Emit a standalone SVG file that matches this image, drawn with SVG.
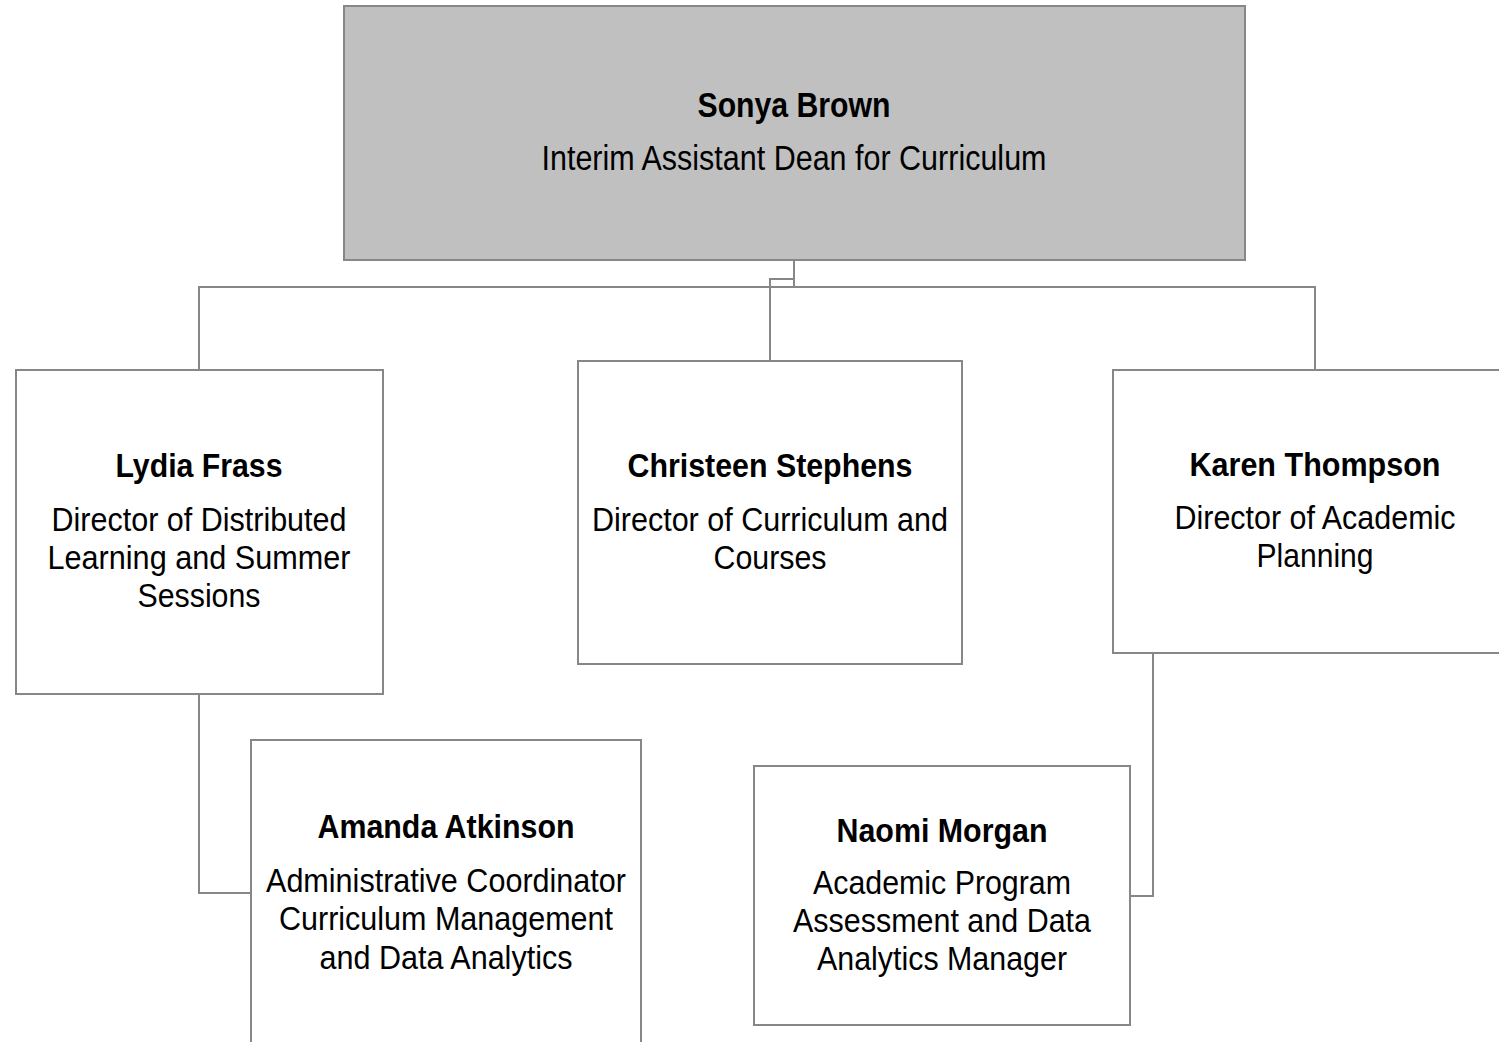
<svg xmlns="http://www.w3.org/2000/svg" width="1499" height="1042" viewBox="0 0 1499 1042">
<style>
.box{fill:#ffffff;stroke:#878787;stroke-width:2}
.top{fill:#c0c0c0;stroke:#878787;stroke-width:2}
.ln{fill:none;stroke:#878787;stroke-width:2}
text{font-family:"Liberation Sans Narrow","Arial Narrow","Liberation Sans",sans-serif;fill:#000;text-anchor:middle;font-size:34px}
.b{font-weight:bold;font-size:33px}
.t{font-size:35px}
</style>
<rect width="1499" height="1042" fill="#ffffff"/>
<g id="connectors">
<path class="ln" d="M794,260 V287"/>
<path class="ln" d="M199,370 V287 H1315 V370"/>
<path class="ln" d="M794,279 H770 V361"/>
<path class="ln" d="M199,694 V893 H251"/>
<path class="ln" d="M1153,653 V896 H1130"/>
</g>
<g id="sonya">
<rect class="top" x="344" y="6" width="901" height="254"/>
<text class="b t" x="794" y="117" textLength="193" lengthAdjust="spacingAndGlyphs">Sonya Brown</text>
<text class="t" x="794" y="170" textLength="505" lengthAdjust="spacingAndGlyphs">Interim Assistant Dean for Curriculum</text>
</g>
<g id="lydia">
<rect class="box" x="16" y="370" width="367" height="324"/>
<text class="b" x="199" y="477" textLength="167" lengthAdjust="spacingAndGlyphs">Lydia Frass</text>
<text x="199" y="531" textLength="295" lengthAdjust="spacingAndGlyphs">Director of Distributed</text>
<text x="199" y="569" textLength="303" lengthAdjust="spacingAndGlyphs">Learning and Summer</text>
<text x="199" y="607" textLength="123" lengthAdjust="spacingAndGlyphs">Sessions</text>
</g>
<g id="christeen">
<rect class="box" x="578" y="361" width="384" height="303"/>
<text class="b" x="770" y="477" textLength="285" lengthAdjust="spacingAndGlyphs">Christeen Stephens</text>
<text x="770" y="531" textLength="356" lengthAdjust="spacingAndGlyphs">Director of Curriculum and</text>
<text x="770" y="569" textLength="113" lengthAdjust="spacingAndGlyphs">Courses</text>
</g>
<g id="karen">
<rect class="box" x="1113" y="370" width="400" height="283"/>
<text class="b" x="1315" y="476" textLength="251" lengthAdjust="spacingAndGlyphs">Karen Thompson</text>
<text x="1315" y="529" textLength="281" lengthAdjust="spacingAndGlyphs">Director of Academic</text>
<text x="1315" y="567" textLength="117" lengthAdjust="spacingAndGlyphs">Planning</text>
</g>
<g id="amanda">
<rect class="box" x="251" y="740" width="390" height="320"/>
<text class="b" x="446" y="838" textLength="257" lengthAdjust="spacingAndGlyphs">Amanda Atkinson</text>
<text x="446" y="892" textLength="360" lengthAdjust="spacingAndGlyphs">Administrative Coordinator</text>
<text x="446" y="930" textLength="334" lengthAdjust="spacingAndGlyphs">Curriculum Management</text>
<text x="446" y="969" textLength="253" lengthAdjust="spacingAndGlyphs">and Data Analytics</text>
</g>
<g id="naomi">
<rect class="box" x="754" y="766" width="376" height="259"/>
<text class="b" x="942" y="842" textLength="211" lengthAdjust="spacingAndGlyphs">Naomi Morgan</text>
<text x="942" y="894" textLength="258" lengthAdjust="spacingAndGlyphs">Academic Program</text>
<text x="942" y="932" textLength="298" lengthAdjust="spacingAndGlyphs">Assessment and Data</text>
<text x="942" y="970" textLength="250" lengthAdjust="spacingAndGlyphs">Analytics Manager</text>
</g>
</svg>
